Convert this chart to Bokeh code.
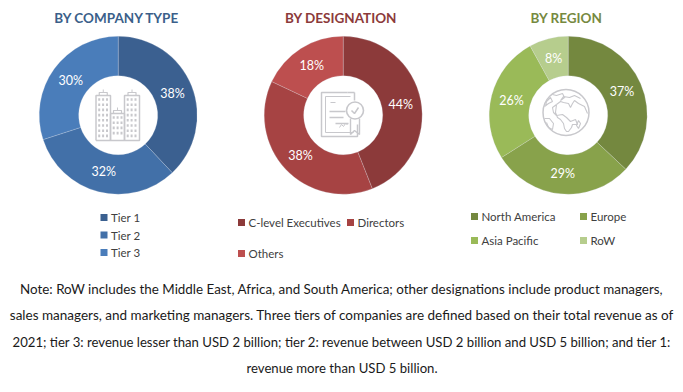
from math import pi, sin, cos
from bokeh.plotting import figure
from bokeh.models import Range1d
from bokeh.core.properties import value
from bokeh.embed import file_html
from bokeh.resources import INLINE

company_labels = ["Tier 1", "Tier 2", "Tier 3"]
company_values = [38, 32, 30]
company_colors = ["#3B6090", "#4270A8", "#4A7DBA"]

designation_labels = ["C-level Executives", "Directors", "Others"]
designation_values = [44, 38, 18]
designation_colors = ["#8C3A3A", "#A64343", "#BD4F4F"]

region_labels = ["North America", "Europe", "Asia Pacific", "RoW"]
region_values = [37, 29, 26, 8]
region_colors = ["#74883F", "#88A24B", "#9ABA58", "#B6CD8D"]

titles = ["BY COMPANY TYPE", "BY DESIGNATION", "BY REGION"]
title_colors = ["#3B5F8A", "#8C3A3A", "#76893F"]
note_lines = [
    "Note: RoW includes the Middle East, Africa, and South America; other designations include product managers,",
    "sales managers, and marketing managers. Three tiers of companies are defined based on their total revenue as of",
    "2021; tier 3: revenue lesser than USD 2 billion; tier 2: revenue between USD 2 billion and USD 5 billion; and tier 1:",
    "revenue more than USD 5 billion.",
]

W, H = 683, 392
FONT = value("Lato")
NOTE_FONT = value("Lato")
ICON = "#C8C8CC"


def Y(py):
    return H - py


p = figure(width=W, height=H, x_range=Range1d(0, W), y_range=Range1d(0, H),
           toolbar_location=None, output_backend="svg", min_border=0, outline_line_color=None)
p.axis.visible = False
p.grid.visible = False
p.background_fill_color = "white"


def donut(cx, cy, vals, cols):
    total = sum(vals)
    acc = 0
    for v, c in zip(vals, cols):
        a0 = pi / 2 - 2 * pi * acc / total
        a1 = pi / 2 - 2 * pi * (acc + v) / total
        p.annular_wedge(x=[cx], y=[Y(cy)], inner_radius=39.5, outer_radius=79,
                        inner_radius_units="screen", outer_radius_units="screen",
                        start_angle=[a0], end_angle=[a1], direction="clock",
                        fill_color=c, line_color="#DDE3EA", line_width=0.4, line_alpha=0.6)
        mid = (acc + v / 2) / total * 2 * pi
        p.text(x=[cx + 58.5 * sin(mid)], y=[Y(cy - 58.5 * cos(mid))], text=[f"{v}%"],
               text_color="white", text_font=FONT, text_font_size="12.5px",
               text_align="center", text_baseline="middle")
        acc += v


def legend(items, cols, pos):
    for t, c, (x, y) in zip(items, cols, pos):
        p.rect(x=[x], y=[Y(y)], width=7, height=7, width_units="screen", height_units="screen",
               fill_color=c, line_color=None)
        p.text(x=[x + 7], y=[Y(y)], text=[t], text_color="#404040", text_font=FONT,
               text_font_size="11.5px", text_align="left", text_baseline="middle")


def stroke(xs, ys, w=1.4, c=ICON):
    p.line(x=xs, y=[Y(v) for v in ys], line_color=c, line_width=w)


def building_icon():
    for x0, x1, top in [(95.5, 110, 95), (110, 124, 113), (124, 139, 95)]:
        stroke([x0, x0, x1, x1, x0], [140, top, top, 140, 140], 1.5)
        m = (x0 + x1) / 2
        stroke([m - 4, m - 4, m + 4, m + 4], [top, top - 3, top - 3, top], 1.2)
        stroke([m, m], [top - 3, top - 6], 1.0)
        wx = [x0 + 3.2 + i * 3.9 for i in range(3)]
        wy = []
        y = top + 4
        while y < 137:
            wy.append(y)
            y += 5.2
        for a in wx:
            for b in wy:
                p.rect(x=[a], y=[Y(b)], width=2, height=2.6, width_units="screen",
                       height_units="screen", fill_color=ICON, line_color=None)


def certificate_icon():
    stroke([347, 321, 321, 357, 357], [92, 92, 136, 136, 124], 1.5)
    stroke([354, 354], [92, 100], 1.5)
    stroke([354, 347], [92, 92], 1.5)
    stroke([325, 325, 353], [96, 132, 132], 1.0)
    stroke([325, 350], [96, 96], 1.0)
    stroke([330, 335], [102, 102], 1.2)
    stroke([329, 345], [111, 111], 1.3)
    stroke([329, 343], [117, 117], 1.3)
    stroke([335, 348], [123, 123], 1.3)
    stroke([339, 341, 343, 345, 347], [127, 124, 126, 123, 124], 1.0)
    p.circle(x=[354.5], y=[Y(110)], radius=8.5, radius_units="screen",
             fill_color="white", line_color=ICON, line_width=1.6)
    stroke([351, 354, 358], [110, 113, 107], 1.5)
    stroke([350, 350, 354, 359, 359], [118, 134, 130, 134, 118], 1.4)


def globe_icon():
    p.circle(x=[565.5], y=[Y(112)], radius=23, radius_units="screen",
             fill_color="white", line_color=ICON, line_width=1.5)
    stroke([556, 552, 553, 556, 562, 566, 570, 575, 577, 572, 571, 568, 566, 564, 563, 560, 557, 555, 556],
           [104, 107, 112, 115, 114, 117, 121, 119, 124, 124, 127, 131, 131, 128, 123, 119, 117, 112, 104], 1.1)
    stroke([556, 560, 563, 568, 570, 572, 574, 578, 584, 587],
           [104, 101, 102, 103, 107, 103, 100, 103, 106, 113], 1.1)
    stroke([552, 556, 562, 564, 560, 563, 569, 574, 580], [94, 95, 93, 97, 100, 96, 97, 95, 98], 1.1)
    stroke([544, 548, 552, 550, 546, 545], [106, 103, 101, 97, 101, 106], 1.1)
    stroke([544, 549, 553, 552, 548, 546], [118, 118, 123, 129, 127, 122], 1.1)
    stroke([578, 580, 578, 576, 578], [120, 123, 128, 125, 120], 1.1)


donut(117.7, 114.7, company_values, company_colors)
donut(342.7, 114.7, designation_values, designation_colors)
donut(567.7, 114.7, region_values, region_colors)

building_icon()
certificate_icon()
globe_icon()

for t, c, x in zip(titles, title_colors, [116.5, 340.5, 566]):
    p.text(x=[x], y=[Y(17)], text=[t], text_color=c, text_font=value("Lato"),
           text_font_style="bold", text_font_size="13.5px", text_align="center", text_baseline="middle")

legend(company_labels, company_colors, [(103.5, 217), (103.5, 234.5), (103.5, 252)])
legend(designation_labels, designation_colors, [(241, 222), (350, 222), (241, 253)])
legend(region_labels, region_colors, [(474, 216), (583, 216), (474, 240), (583, 240)])

for t, y, s in zip(note_lines, [288, 314, 341, 367], ["13.4px", "13.5px", "13.15px", "13.15px"]):
    p.text(x=[341.5], y=[Y(y)], text=[t], text_color="#1A1A1A", text_font=NOTE_FONT,
           text_font_size=s, text_align="center", text_baseline="middle")

open("out.html", "w").write(file_html(p, INLINE))
